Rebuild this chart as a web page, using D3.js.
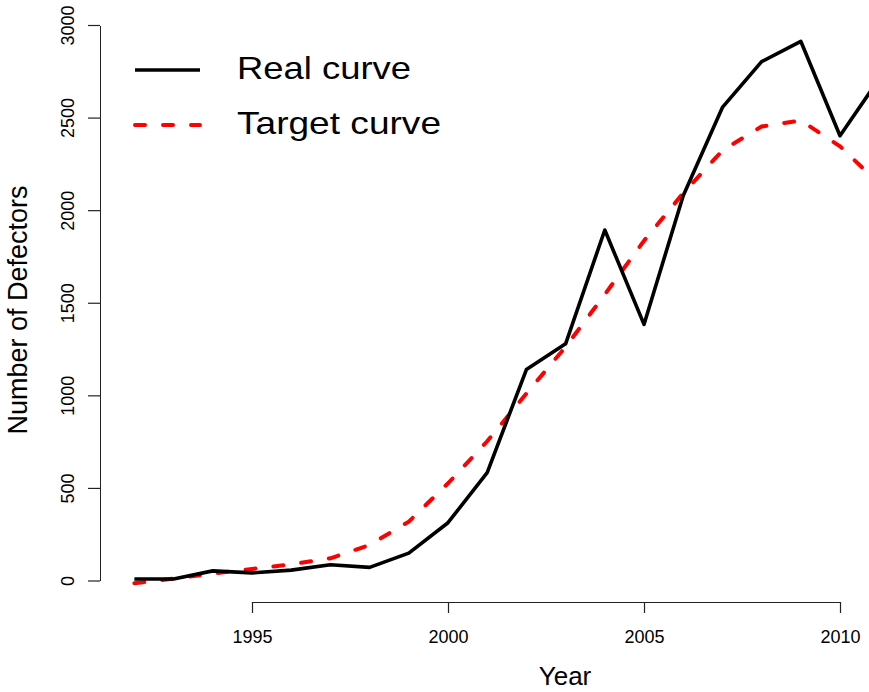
<!DOCTYPE html>
<html>
<head>
<meta charset="utf-8">
<script src="https://cdn.jsdelivr.net/npm/d3@7"></script>
<style>
  body { margin: 0; background: #fff; }
  svg text { font-family: "Liberation Sans", Arial, Helvetica, sans-serif; fill: #000; }
</style>
</head>
<body>
<svg id="chart" width="869" height="692"></svg>
<script>
// years shown on the plot
const years = [1992, 1993, 1994, 1995, 1996, 1997, 1998, 1999, 2000, 2001,
               2002, 2003, 2004, 2005, 2006, 2007, 2008, 2009, 2010, 2011];
// observed numbers (black solid)
const realCurve = [8, 8, 52, 41, 56, 85, 71, 148, 312, 583,
                   1139, 1278, 1893, 1383, 2078, 2555, 2802, 2912, 2402, 2710];
// fitted target (red dashed)
const targetCurve = [-15, 10, 38, 62, 87, 120, 192, 318, 525, 752,
                     1010, 1262, 1545, 1835, 2092, 2322, 2452, 2484, 2345, 2142];
const xTicks = [1995, 2000, 2005, 2010];
const yTicks = [0, 500, 1000, 1500, 2000, 2500, 3000];
const seriesNames = ["Real curve", "Target curve"];

const svg = d3.select("#chart");

const x = d3.scaleLinear().domain([1995, 2010]).range([252, 840]);
const y = d3.scaleLinear().domain([0, 3000]).range([580.5, 25]);

// x axis
const gx = svg.append("g")
    .attr("transform", "translate(0,602)")
    .call(d3.axisBottom(x).tickValues(xTicks).tickFormat(d3.format("d")).tickSize(11).tickSizeOuter(0));
gx.selectAll("text").attr("y", 41).attr("dy", 0).style("font-size", "18px");

// y axis
const gy = svg.append("g")
    .attr("transform", "translate(100,0)")
    .call(d3.axisLeft(y).tickValues(yTicks).tickFormat(d3.format("d")).tickSize(12).tickSizeOuter(0));
gy.selectAll("text")
    .attr("x", 0).attr("dy", 0)
    .attr("text-anchor", "middle")
    .attr("transform", "translate(-26,0) rotate(-90)")
    .style("font-size", "18px");

[gx, gy].forEach(g => {
  g.selectAll("path, line").attr("stroke", "#222").attr("stroke-width", 1.2);
  g.select(".domain").attr("shape-rendering", "crispEdges");
});

// axis titles
svg.append("text")
    .attr("x", 565).attr("y", 685)
    .attr("text-anchor", "middle")
    .style("font-size", "26px")
    .text("Year");
svg.append("text")
    .attr("transform", "translate(27,310) rotate(-90)")
    .attr("text-anchor", "middle")
    .style("font-size", "27px")
    .text("Number of Defectors");

const line = d3.line().x(d => x(d[0])).y(d => y(d[1]));

svg.append("path")
    .datum(d3.zip(years, targetCurve))
    .attr("fill", "none")
    .attr("stroke", "#ff0000")
    .attr("stroke-width", 4)
    .attr("stroke-dasharray", "10 18")
    .attr("stroke-linecap", "round")
    .attr("d", line);

svg.append("path")
    .datum(d3.zip(years, realCurve))
    .attr("fill", "none")
    .attr("stroke", "#000")
    .attr("stroke-width", 3.6)
    .attr("stroke-linejoin", "round")
    .attr("d", line);

// legend
const legend = svg.append("g");
const legendStyles = [
  { color: "#000", dash: null },
  { color: "#ff0000", dash: "10 18" }
];
seriesNames.forEach((name, i) => {
  const ly = 70 + i * 55;
  legend.append("line")
      .attr("x1", 135).attr("x2", 200)
      .attr("y1", ly).attr("y2", ly)
      .attr("stroke", legendStyles[i].color)
      .attr("stroke-width", i === 0 ? 3.6 : 4)
      .attr("stroke-linecap", i === 0 ? "butt" : "round")
      .attr("stroke-dasharray", legendStyles[i].dash);
  legend.append("text")
      .attr("x", 237).attr("y", ly + 9)
      .attr("textLength", i === 0 ? 174 : 204)
      .attr("lengthAdjust", "spacingAndGlyphs")
      .style("font-size", "32px")
      .text(name);
});
</script>
</body>
</html>
